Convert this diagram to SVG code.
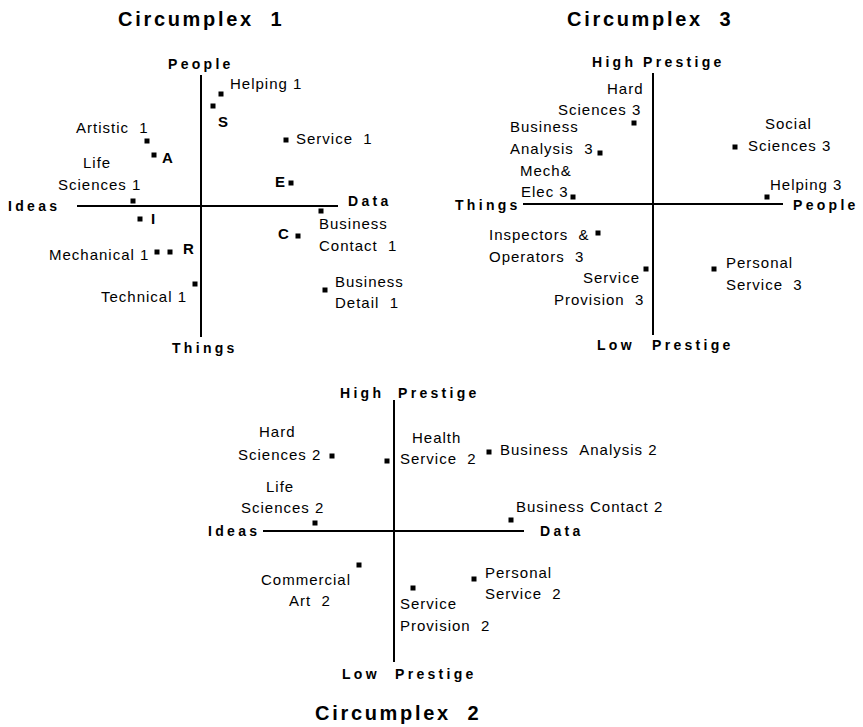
<svg xmlns="http://www.w3.org/2000/svg" width="863" height="727" viewBox="0 0 863 727">
<style>
text{font-family:"Liberation Sans",Arial,sans-serif;fill:#000}
.t{font-size:20px;font-weight:bold;letter-spacing:2.7px}
.ax{font-size:14px;font-weight:bold;letter-spacing:3.3px}
.lb{font-size:15px;letter-spacing:1px}
.bl{font-size:15px;font-weight:bold}
.m{fill:#000}
.axis line{stroke:#000;stroke-width:2}
</style>
<defs><rect id="pt" x="-2.5" y="-2.5" width="5" height="5" class="m"/></defs>
<rect width="863" height="727" fill="#fff"/>

<g id="circumplex1">
<text class="t" x="118" y="26">Circumplex &#160;1</text>
<g class="axis"><line x1="201" y1="75" x2="201" y2="337"/><line x1="77" y1="206" x2="338" y2="206"/></g>
<text class="ax" x="168" y="69">People</text>
<text class="ax" x="8" y="211">Ideas</text>
<text class="ax" x="348" y="206">Data</text>
<text class="ax" x="172" y="353">Things</text>
<g id="helping1"><use href="#pt" x="221" y="94"/><text class="lb" x="230" y="89">Helping 1</text></g>
<g id="S"><use href="#pt" x="213" y="106"/><text class="bl" x="218" y="127">S</text></g>
<g id="artistic1"><use href="#pt" x="147" y="141"/><text class="lb" x="76" y="133">Artistic &#160;1</text></g>
<g id="A"><use href="#pt" x="154" y="155"/><text class="bl" x="162" y="163">A</text></g>
<g id="service1"><use href="#pt" x="286" y="140"/><text class="lb" x="296" y="144">Service &#160;1</text></g>
<g id="life1"><use href="#pt" x="133" y="201"/><text class="lb" x="83" y="168">Life</text><text class="lb" x="58" y="190">Sciences 1</text></g>
<g id="E"><use href="#pt" x="291" y="183"/><text class="bl" x="275" y="187">E</text></g>
<g id="I"><use href="#pt" x="140" y="219"/><text class="bl" x="151" y="224">I</text></g>
<g id="contact1"><use href="#pt" x="321" y="211"/><text class="lb" x="319" y="229">Business</text><text class="lb" x="319" y="251">Contact &#160;1</text></g>
<g id="C"><use href="#pt" x="298" y="236"/><text class="bl" x="278" y="239">C</text></g>
<g id="mechanical1"><use href="#pt" x="157" y="252"/><text class="lb" x="49" y="260">Mechanical 1</text></g>
<g id="R"><use href="#pt" x="170" y="252"/><text class="bl" x="183" y="254">R</text></g>
<g id="technical1"><use href="#pt" x="195" y="284"/><text class="lb" x="101" y="302">Technical 1</text></g>
<g id="detail1"><use href="#pt" x="325" y="290"/><text class="lb" x="335" y="287">Business</text><text class="lb" x="335" y="308">Detail &#160;1</text></g>
</g>

<g id="circumplex3">
<text class="t" x="567" y="26">Circumplex &#160;3</text>
<g class="axis"><line x1="653" y1="73" x2="653" y2="335"/><line x1="523" y1="204" x2="783" y2="204"/></g>
<text class="ax" x="592" y="67">High</text>
<text class="ax" x="643" y="67">Prestige</text>
<text class="ax" x="455" y="210">Things</text>
<text class="ax" x="793" y="210">People</text>
<text class="ax" x="597" y="350">Low</text>
<text class="ax" x="652" y="350">Prestige</text>
<g id="hard3"><use href="#pt" x="634" y="123"/><text class="lb" x="607" y="94">Hard</text><text class="lb" x="558" y="115">Sciences 3</text></g>
<g id="analysis3"><use href="#pt" x="600" y="153"/><text class="lb" x="510" y="132">Business</text><text class="lb" x="510" y="154">Analysis &#160;3</text></g>
<g id="mech3"><use href="#pt" x="573" y="197"/><text class="lb" x="520" y="176">Mech&amp;</text><text class="lb" x="521" y="197">Elec 3</text></g>
<g id="social3"><use href="#pt" x="735" y="147"/><text class="lb" x="765" y="129">Social</text><text class="lb" x="748" y="151">Sciences 3</text></g>
<g id="helping3"><use href="#pt" x="767" y="197"/><text class="lb" x="770" y="190">Helping 3</text></g>
<g id="inspectors3"><use href="#pt" x="598" y="233"/><text class="lb" x="489" y="240">Inspectors &#160;&amp;</text><text class="lb" x="489" y="262">Operators &#160;3</text></g>
<g id="provision3"><use href="#pt" x="646" y="269"/><text class="lb" x="583" y="283">Service</text><text class="lb" x="554" y="305">Provision &#160;3</text></g>
<g id="personal3"><use href="#pt" x="714" y="269"/><text class="lb" x="726" y="268">Personal</text><text class="lb" x="726" y="290">Service &#160;3</text></g>
</g>

<g id="circumplex2">
<text class="ax" x="340" y="398">High</text>
<text class="ax" x="398" y="398">Prestige</text>
<g class="axis"><line x1="394" y1="400" x2="394" y2="662"/><line x1="263" y1="531" x2="524" y2="531"/></g>
<text class="ax" x="208" y="536">Ideas</text>
<text class="ax" x="540" y="536">Data</text>
<text class="ax" x="342" y="679">Low</text>
<text class="ax" x="395" y="679">Prestige</text>
<text class="t" x="315" y="720">Circumplex &#160;2</text>
<g id="hard2"><use href="#pt" x="332" y="456"/><text class="lb" x="259" y="437">Hard</text><text class="lb" x="238" y="460">Sciences 2</text></g>
<g id="health2"><use href="#pt" x="387" y="461"/><text class="lb" x="412" y="443">Health</text><text class="lb" x="400" y="464">Service &#160;2</text></g>
<g id="analysis2"><use href="#pt" x="489" y="452"/><text class="lb" x="500" y="455">Business &#160;Analysis 2</text></g>
<g id="life2"><use href="#pt" x="315" y="523"/><text class="lb" x="266" y="492">Life</text><text class="lb" x="241" y="513">Sciences 2</text></g>
<g id="contact2"><use href="#pt" x="511" y="520"/><text class="lb" x="516" y="512">Business Contact 2</text></g>
<g id="commercial2"><use href="#pt" x="359" y="565"/><text class="lb" x="261" y="585">Commercial</text><text class="lb" x="289" y="606">Art &#160;2</text></g>
<g id="provision2"><use href="#pt" x="413" y="588"/><text class="lb" x="400" y="609">Service</text><text class="lb" x="400" y="631">Provision &#160;2</text></g>
<g id="personal2"><use href="#pt" x="474" y="579"/><text class="lb" x="485" y="578">Personal</text><text class="lb" x="485" y="599">Service &#160;2</text></g>
</g>
</svg>
